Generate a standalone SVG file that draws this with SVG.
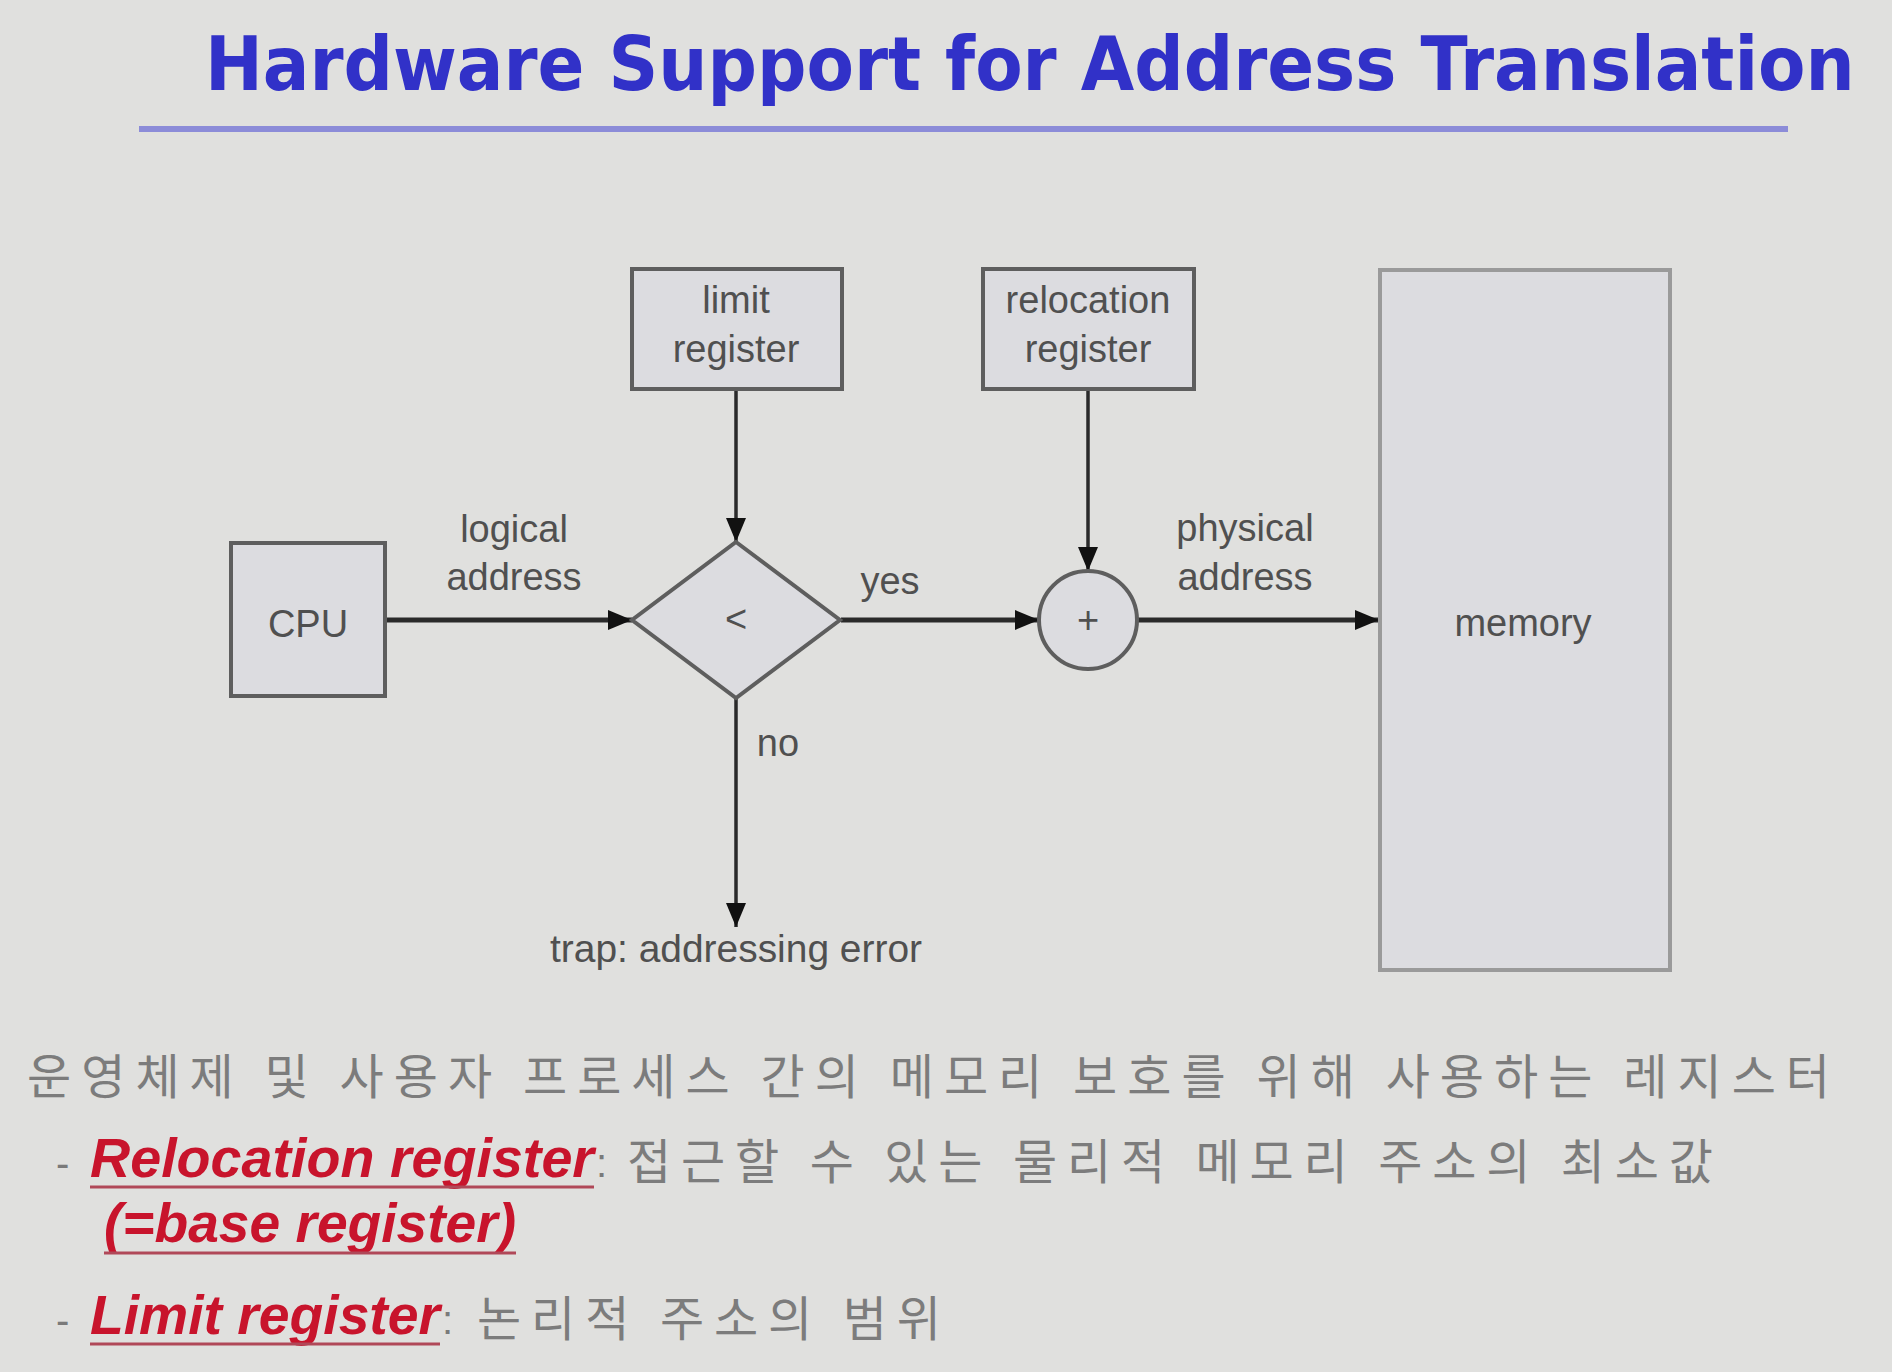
<svg xmlns="http://www.w3.org/2000/svg" width="1892" height="1372" viewBox="0 0 1892 1372">
<style>
.box{fill:#dcdce0;stroke:#5e5e5e;stroke-width:4}
.mem{fill:#dcdce0;stroke:#9a9a9a;stroke-width:4}
.lbl{font-family:"Liberation Sans",Arial,sans-serif;font-size:38px;fill:#505050;text-anchor:middle}
.conn{stroke:#2a2a2a;fill:none}
.h{stroke-width:5}
.v{stroke-width:3.5}
.ko{font-family:"Noto Sans CJK KR","Noto Sans",sans-serif;font-size:48px;fill:#7c7c7c}
.red{font-family:"Liberation Sans",Arial,sans-serif;font-size:55px;font-weight:bold;font-style:italic;fill:#c8142c}
.ul{stroke:#b04858;stroke-width:3}
.bul{font-family:"Liberation Sans",Arial,sans-serif;font-size:40px;fill:#7a7a7a}
</style>
<defs>
<marker id="arr" viewBox="0 0 24 20" refX="24" refY="10" markerWidth="24" markerHeight="20" markerUnits="userSpaceOnUse" orient="auto">
<path d="M0,0 L24,10 L0,20 z" fill="#111"/>
</marker>
</defs>
<rect width="1892" height="1372" fill="#e0e0de"/>

<g id="title">
<text transform="translate(205,90) scale(0.84,1)" x="0" y="0" font-family="DejaVu Sans,Verdana,sans-serif" font-weight="bold" font-size="74" fill="#3131c8" textLength="1964" lengthAdjust="spacingAndGlyphs">Hardware Support for Address Translation</text>
<line x1="139" y1="129" x2="1788" y2="129" stroke="#8c8cd8" stroke-width="6"/>
</g>

<g id="connectors">
<line class="conn h" x1="385" y1="620" x2="632" y2="620" marker-end="url(#arr)"/>
<line class="conn v" x1="736" y1="389" x2="736" y2="542" marker-end="url(#arr)"/>
<line class="conn h" x1="841" y1="620" x2="1039" y2="620" marker-end="url(#arr)"/>
<line class="conn v" x1="1088" y1="389" x2="1088" y2="571" marker-end="url(#arr)"/>
<line class="conn h" x1="1137" y1="620" x2="1379" y2="620" marker-end="url(#arr)"/>
<line class="conn v" x1="736" y1="699" x2="736" y2="927" marker-end="url(#arr)"/>
<text class="lbl" x="514" y="542">logical</text>
<text class="lbl" x="514" y="590">address</text>
<text class="lbl" x="890" y="594">yes</text>
<text class="lbl" x="1245" y="541">physical</text>
<text class="lbl" x="1245" y="590">address</text>
<text class="lbl" x="778" y="756">no</text>
</g>

<g id="cpu">
<rect class="box" x="231" y="543" width="154" height="153"/>
<text class="lbl" x="308" y="637">CPU</text>
</g>

<g id="limit-register">
<rect class="box" x="632" y="269" width="210" height="120"/>
<text class="lbl" x="736" y="313">limit</text>
<text class="lbl" x="736" y="362">register</text>
</g>

<g id="relocation-register">
<rect class="box" x="983" y="269" width="211" height="120"/>
<text class="lbl" x="1088" y="313">relocation</text>
<text class="lbl" x="1088" y="362">register</text>
</g>

<g id="compare">
<polygon class="box" points="736,542 840,620 736,698 632,620"/>
<text class="lbl" x="736" y="632">&lt;</text>
</g>

<g id="adder">
<circle class="box" cx="1088" cy="620" r="49"/>
<text class="lbl" x="1088" y="633">+</text>
</g>

<g id="memory">
<rect class="mem" x="1380" y="270" width="290" height="700"/>
<text class="lbl" x="1523" y="636">memory</text>
</g>

<g id="trap">
<text class="lbl" x="736" y="962" textLength="372" lengthAdjust="spacingAndGlyphs">trap: addressing error</text>
</g>

<g id="notes">
<text class="ko" x="27" y="1094" textLength="1803" lengthAdjust="spacing">운영체제 및 사용자 프로세스 간의 메모리 보호를 위해 사용하는 레지스터</text>
<text class="bul" x="56" y="1177">-</text>
<text class="red" x="90" y="1177" textLength="504" lengthAdjust="spacingAndGlyphs">Relocation register</text>
<line class="ul" x1="90" y1="1187" x2="594" y2="1187"/>
<text class="bul" x="596" y="1177" fill="#777">:</text>
<text class="ko" x="627" y="1179" textLength="1086" lengthAdjust="spacing">접근할 수 있는 물리적 메모리 주소의 최소값</text>
<text class="red" x="104" y="1242" textLength="412" lengthAdjust="spacingAndGlyphs">(=base register)</text>
<line class="ul" x1="104" y1="1253" x2="516" y2="1253"/>
<text class="bul" x="56" y="1334">-</text>
<text class="red" x="90" y="1334" textLength="350" lengthAdjust="spacingAndGlyphs">Limit register</text>
<line class="ul" x1="90" y1="1344" x2="440" y2="1344"/>
<text class="bul" x="442" y="1334" fill="#777">:</text>
<text class="ko" x="477" y="1336" textLength="464" lengthAdjust="spacing">논리적 주소의 범위</text>
</g>
</svg>
